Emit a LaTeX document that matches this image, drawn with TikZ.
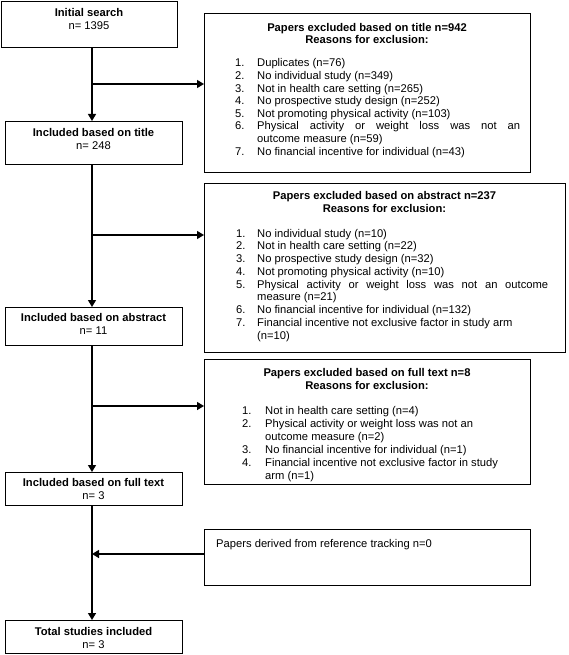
\documentclass[tikz,border=0pt]{standalone}
\usepackage{fontspec}
\setmainfont{Liberation Sans}
\usetikzlibrary{arrows.meta}
\begin{document}
\begin{tikzpicture}[x=1pt,y=-1pt,
  every node/.style={font=\fontsize{11.2}{12.7}\selectfont, inner sep=0pt},
  box/.style={draw, line width=0.9pt, anchor=north west},
  arr/.style={line width=1.4pt, -{Triangle[length=7pt,width=8pt]}},
  tl/.style={anchor=base, font=\fontsize{11.2}{12.7}\selectfont\bfseries},
  nl/.style={anchor=base},
  itm/.style={anchor=base west}]
\useasboundingbox (0,0) rectangle (568,655);

% left boxes
\node[box, minimum width=176pt, minimum height=46pt] (A) at (1,1) {};
\node[box, minimum width=177pt, minimum height=43pt] (C) at (5,121) {};
\node[box, minimum width=177pt, minimum height=38pt] (E) at (5,307) {};
\node[box, minimum width=177pt, minimum height=33pt] (G) at (5,472) {};
\node[box, minimum width=177pt, minimum height=33pt] (I) at (5,620) {};
% right boxes
\node[box, minimum width=326pt, minimum height=159pt] (B) at (204,13) {};
\node[box, minimum width=361pt, minimum height=169pt] (D) at (204,183) {};
\node[box, minimum width=326pt, minimum height=125pt] (F) at (204,359) {};
\node[box, minimum width=326pt, minimum height=56pt] (H) at (204,529) {};

% left texts
\node[tl] (A1) at (89,17) {Initial search};
\node[nl] (A2) at (89,30) {n= 1395};
\node[tl] (C1) at (93.5,137) {Included based on title};
\node[nl] (C2) at (93.5,149.5) {n= 248};
\node[tl] (E1) at (93.5,321) {Included based on abstract};
\node[nl] (E2) at (93.5,334) {n= 11};
\node[tl] (G1) at (93.5,486.5) {Included based on full text};
\node[nl] (G2) at (93.5,499) {n= 3};
\node[tl] (I1) at (93.5,635.5) {Total studies included};
\node[nl] (I2) at (93.5,648) {n= 3};

% box B
\node[tl] (Bt) at (367,32) {Papers excluded based on title n=942};
\node[tl] (Br) at (367,44) {Reasons for exclusion:};
\node[itm] (Bn1) at (235,67) {1.};
\node[itm] (Bi1) at (257,67) {Duplicates (n=76)};
\node[itm] (Bn2) at (235,79.6) {2.};
\node[itm] (Bi2) at (257,79.6) {No individual study (n=349)};
\node[itm] (Bn3) at (235,92.2) {3.};
\node[itm] (Bi3) at (257,92.2) {Not in health care setting (n=265)};
\node[itm] (Bn4) at (235,104.8) {4.};
\node[itm] (Bi4) at (257,104.8) {No prospective study design (n=252)};
\node[itm] (Bn5) at (235,117.4) {5.};
\node[itm] (Bi5) at (257,117.4) {Not promoting physical activity (n=103)};
\node[itm] (Bn6) at (235,130) {6.};
\node[itm] (Bi6) at (257,130) {\makebox[263pt][s]{Physical activity or weight loss was not an}};
\node[itm] (Bi6b) at (257,142.6) {outcome measure (n=59)};
\node[itm] (Bn7) at (235,155.2) {7.};
\node[itm] (Bi7) at (257,155.2) {No financial incentive for individual (n=43)};

% box D
\node[tl] (Dt) at (384.5,199) {Papers excluded based on abstract n=237};
\node[tl] (Dr) at (384.5,212) {Reasons for exclusion:};
\node[itm] (Dn1) at (236,237) {1.};
\node[itm] (Di1) at (257,237) {No individual study (n=10)};
\node[itm] (Dn2) at (236,249.75) {2.};
\node[itm] (Di2) at (257,249.75) {Not in health care setting (n=22)};
\node[itm] (Dn3) at (236,262.5) {3.};
\node[itm] (Di3) at (257,262.5) {No prospective study design (n=32)};
\node[itm] (Dn4) at (236,275.25) {4.};
\node[itm] (Di4) at (257,275.25) {Not promoting physical activity (n=10)};
\node[itm] (Dn5) at (236,288) {5.};
\node[itm] (Di5) at (257,288) {\makebox[291pt][s]{Physical activity or weight loss was not an outcome}};
\node[itm] (Di5b) at (257,300.75) {measure (n=21)};
\node[itm] (Dn6) at (236,313.5) {6.};
\node[itm] (Di6) at (257,313.5) {No financial incentive for individual (n=132)};
\node[itm] (Dn7) at (236,326.25) {7.};
\node[itm] (Di7) at (257,326.25) {Financial incentive not exclusive factor in study arm};
\node[itm] (Di7b) at (257,339) {(n=10)};

% box F
\node[tl] (Ft) at (367,376) {Papers excluded based on full text n=8};
\node[tl] (Fr) at (367,389) {Reasons for exclusion:};
\node[itm] (Fn1) at (242,414.5) {1.};
\node[itm] (Fi1) at (265,414.5) {Not in health care setting (n=4)};
\node[itm] (Fn2) at (242,427.5) {2.};
\node[itm] (Fi2) at (265,427.5) {Physical activity or weight loss was not an};
\node[itm] (Fi2b) at (265,440.5) {outcome measure (n=2)};
\node[itm] (Fn3) at (242,453.5) {3.};
\node[itm] (Fi3) at (265,453.5) {No financial incentive for individual (n=1)};
\node[itm] (Fn4) at (242,466.5) {4.};
\node[itm] (Fi4) at (265,466.5) {Financial incentive not exclusive factor in study};
\node[itm] (Fi4b) at (265,479.5) {arm (n=1)};

% box H
\node[itm] (Ht) at (216,547) {Papers derived from reference tracking n=0};

% connectors
\coordinate (v) at (92,0);
\coordinate (b1) at (92,84);
\coordinate (b2) at (92,235);
\coordinate (b3) at (92,406);
\coordinate (b4) at (92,554);
\draw[arr] (A.south -| v) -- (C.north -| v);
\draw[arr] (b1) -- (B.west |- b1);
\draw[arr] (C.south -| v) -- (E.north -| v);
\draw[arr] (b2) -- (D.west |- b2);
\draw[arr] (E.south -| v) -- (G.north -| v);
\draw[arr] (b3) -- (F.west |- b3);
\draw[arr] (G.south -| v) -- (I.north -| v);
\draw[arr] (H.west |- b4) -- (b4);
\end{tikzpicture}
\end{document}
